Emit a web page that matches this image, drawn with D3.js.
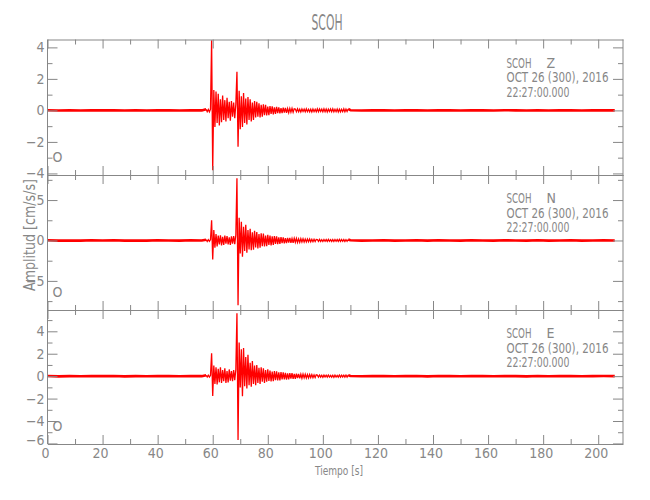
<!DOCTYPE html>
<html><head><meta charset="utf-8">
<script src="https://cdn.jsdelivr.net/npm/d3@7"></script>
<style>body{margin:0;background:#fff} svg{display:block}</style>
</head><body><svg id="c" width="650" height="500"></svg>
<script>
// ---------------- data ----------------
const title = "SCOH";
const station = "SCOH";
const components = ["Z", "N", "E"];
const dateLine = "OCT 26 (300), 2016";
const timeLine = "22:27:00.000";
const markerLabel = "O";
const xLabel = "Tiempo [s]";
const yLabel = "Amplitud [cm/s/s]";

const xDomain = [0, 209];
const xMajorTicks = [0, 20, 40, 60, 80, 100, 120, 140, 160, 180, 200];
const xMinorTicks = [10, 30, 50, 70, 90, 110, 130, 150, 170, 190];

const yDomainZ = [-4.1, 4.5];
const yDomainN = [-8.6, 8.1];
const yDomainE = [-6.05, 5.9];
const yMajorZ = [-4, -2, 0, 2, 4];
const yMinorZ = [-3, -1, 1, 3];
const yMajorN = [-5, 0, 5];
const yMinorN = [-7.5, -2.5, 2.5, 7.5];
const yMajorE = [-6, -4, -2, 0, 2, 4];
const yMinorE = [-5, -3, -1, 1, 3, 5];

// quiet (pre-event / late) parts: times [s] and amplitudes
const preTimes  = [0, 4, 8, 12, 16, 20, 24, 28, 32, 36, 40, 44, 48, 52, 56];
const postTimes = [110, 114, 118, 122, 126, 130, 134, 138, 142, 146, 150, 154, 158, 162, 166, 170, 174, 178, 182, 186, 190, 194, 198, 202, 206];

// active part: sampled every activeDt seconds starting at activeStart
const activeStart = 57.6;
const activeDt = 0.4;

const zPre  = [0.01, -0.01, 0.0, -0.01, 0.01, 0.0, 0.01, -0.01, 0.0, -0.01, 0.01, 0.0, -0.01, 0.01, 0.0];
const zActive = [0.07, -0.08, 0.06, -0.09, 0.08,
  4.45, -3.8, 1.3, -1.05, 1.2, -0.8, 1.05, -0.95, 0.7, -0.75,
  0.95, -0.6, 0.65, -0.7, 0.8, -0.5, 0.55, -0.65, 0.6, -0.4,
  0.5, -0.5, 0.4, 2.45, -2.3, 1.25, -1.2, 0.9, -1.05, 1.1,
  -0.8, 0.75, -0.9, 0.85, -0.6, 0.7, -0.7, 0.5, -0.6, 0.6,
  -0.45, 0.55, -0.4, 0.45, -0.45, 0.35, -0.4, 0.38, -0.3, 0.35,
  -0.32, 0.25, -0.3, 0.28, -0.22, 0.26, -0.25, 0.2, -0.22, 0.22,
  -0.17, 0.2, -0.19, 0.15, -0.18, 0.17, -0.14, 0.16, -0.15, 0.12,
  -0.14, 0.13, -0.11, 0.13, -0.12, 0.1,
  0.09, -0.08, 0.1, -0.09, 0.08, -0.1, 0.09, -0.07, 0.08, -0.09,
  0.1, -0.08, 0.07, -0.09, 0.08, -0.1, 0.09, -0.08, 0.07, -0.09,
  0.1, -0.08, 0.09, -0.07, 0.08, -0.09, 0.1, -0.08, 0.09, -0.1,
  0.08, -0.07, 0.09, -0.08, 0.1, -0.09, 0.07, -0.08, 0.09, -0.1,
  0.08, -0.09, 0.07, -0.08, 0.1, -0.09, 0.08, -0.07, 0.09];
const zPost = [0.01, -0.01, 0.0, 0.01, -0.01, 0.0, 0.01, -0.01, 0.01, 0.0, -0.01, 0.01, 0.0, -0.01, 0.01, 0.0, -0.01, 0.01, -0.01, 0.0, 0.01, -0.01, 0.0, 0.01, 0.0];

const nPre  = [0.02, -0.02, 0.0, -0.02, 0.02, 0.0, 0.02, -0.02, 0.0, -0.02, 0.02, 0.0, -0.02, 0.02, 0.0];
const nActive = [0.1, -0.12, 0.1, -0.11, 0.12,
  2.5, -2.35, 1.3, -0.9, 0.8, -0.75, 0.6, -0.5, 0.65, -0.6,
  0.45, -0.55, 0.6, -0.4, 0.55, -0.5, 0.4, -0.55, 0.5, -0.4,
  0.55, -0.45, 0.7, 7.7, -8.0, 2.8, -1.6, 2.3, -2.0, 1.7,
  -1.3, 1.95, -1.5, 1.3, -1.1, 1.45, -1.2, 1.0, -1.15, 1.2,
  -0.85, 1.05, -1.0, 0.8, -0.9, 0.9, -0.7, 0.85, -0.75, 0.6,
  -0.7, 0.7, -0.55, 0.6, -0.6, 0.5, -0.55, 0.55, -0.42, 0.5,
  -0.45, 0.38, -0.42, 0.42, -0.33, 0.38, -0.36, 0.3, -0.34, 0.33,
  -0.26, 0.31, -0.28, 0.24, -0.28, 0.27, -0.22, 0.25, -0.24, 0.2,
  -0.23, 0.22, -0.18, 0.21, -0.2, 0.17, -0.19, 0.18, -0.15, 0.18,
  -0.16, 0.14, -0.16, 0.15, -0.13, 0.14,
  0.12, -0.11, 0.13, -0.12, 0.1, -0.13, 0.12, -0.1, 0.11, -0.12,
  0.13, -0.11, 0.1, -0.12, 0.11, -0.13, 0.12, -0.1, 0.11, -0.12,
  0.13, -0.11, 0.12, -0.1, 0.11, -0.12, 0.1, -0.11, 0.12];
const nPost = [0.02, -0.02, 0.0, 0.02, -0.02, 0.0, 0.02, -0.02, 0.02, 0.0, -0.02, 0.02, 0.0, -0.02, 0.02, 0.0, -0.02, 0.02, -0.02, 0.0, 0.02, -0.02, 0.0, 0.02, 0.0];

const ePre  = [0.01, -0.02, 0.0, -0.01, 0.02, 0.0, 0.01, -0.02, 0.0, -0.01, 0.02, 0.0, -0.01, 0.01, 0.0];
const eActive = [0.08, -0.07, 0.09, -0.08, 0.07,
  2.05, -1.76, 0.95, -0.7, 0.8, -0.75, 0.65, -0.55, 0.8, -0.6,
  0.55, -0.45, 0.7, -0.6, 0.45, -0.55, 0.6, -0.4, 0.45, -0.45,
  0.55, -0.35, 0.6, 5.6, -5.7, 3.0, -1.0, 2.4, -1.8, 2.5,
  -0.9, 1.7, -1.1, 1.9, -0.8, 1.2, -0.95, 1.35, -0.7, 0.95,
  -0.8, 1.0, -0.6, 0.75, -0.7, 0.8, -0.5, 0.7, -0.6, 0.55,
  -0.5, 0.6, -0.42, 0.5, -0.48, 0.4, -0.45, 0.45, -0.35, 0.42,
  -0.38, 0.33, -0.37, 0.36, -0.3, 0.34, -0.28, 0.3, -0.3, 0.26,
  -0.28, 0.27, -0.22, 0.26, -0.24, 0.2, -0.23, 0.22, -0.18, 0.21,
  -0.2, 0.17, -0.19, 0.18, -0.15, 0.17, -0.16, 0.14, -0.15, 0.15,
  -0.12, 0.14, -0.13, 0.11, -0.12, 0.12,
  0.09, -0.08, 0.1, -0.09, 0.08, -0.1, 0.09, -0.07, 0.08, -0.09,
  0.1, -0.08, 0.07, -0.09, 0.08, -0.1, 0.09, -0.08, 0.07, -0.09,
  0.1, -0.08, 0.09, -0.07, 0.08, -0.09, 0.1, -0.08, 0.09];
const ePost = [0.01, -0.01, 0.0, 0.02, -0.01, 0.0, 0.01, -0.02, 0.01, 0.0, -0.01, 0.02, 0.0, -0.01, 0.01, 0.0, -0.02, 0.01, -0.01, 0.0, 0.02, -0.01, 0.0, 0.01, 0.0];

// ---------------- drawing ----------------
const svg = d3.select("#c");
const FONT = "'Liberation Sans Narrow','DejaVu Sans Condensed','Liberation Sans',sans-serif";
const GRAY = "#878787";
const RED = "#ff0000";

const left = 47.5, right = 623;
const panelTops = [39.5, 175, 310];
const panelBottoms = [175, 310, 444];

const x = d3.scaleLinear().domain(xDomain).range([left, right]);

const traces = [
  {comp: components[0], dom: yDomainZ, maj: yMajorZ, min: yMinorZ, pre: zPre, act: zActive, post: zPost},
  {comp: components[1], dom: yDomainN, maj: yMajorN, min: yMinorN, pre: nPre, act: nActive, post: nPost},
  {comp: components[2], dom: yDomainE, maj: yMajorE, min: yMinorE, pre: ePre, act: eActive, post: ePost}
];

function styleAxis(g) {
  g.selectAll("path.domain").attr("stroke", GRAY).attr("stroke-width", 1);
  g.selectAll(".tick line").attr("stroke", GRAY).attr("stroke-width", 1);
  g.selectAll(".tick text").attr("fill", GRAY).attr("font-family", FONT).attr("font-size", 14);
}

traces.forEach((tr, k) => {
  const top = panelTops[k], bot = panelBottoms[k];
  const y = d3.scaleLinear().domain(tr.dom).range([bot, top]);
  const isLast = k === traces.length - 1;

  // trace
  const preData = preTimes.map((t, i) => [t, tr.pre[i]]);
  const actData = tr.act.map((v, i) => [activeStart + activeDt * i, v]);
  const postData = postTimes.map((t, i) => [t, tr.post[i]]);
  const line = d3.line().x(d => x(d[0])).y(d => y(d[1]));

  const tg = svg.append("g");
  tg.append("path").datum(preData.concat([actData[0]]))
    .attr("d", line).attr("fill", "none").attr("stroke", RED).attr("stroke-width", 2.6).attr("stroke-linejoin", "round");
  tg.append("path").datum([actData[actData.length - 1]].concat(postData))
    .attr("d", line).attr("fill", "none").attr("stroke", RED).attr("stroke-width", 2.6).attr("stroke-linejoin", "round");
  tg.append("path").datum(actData)
    .attr("d", line).attr("fill", "none").attr("stroke", RED).attr("stroke-width", 1.3);

  // left axis
  const gl = svg.append("g").attr("transform", `translate(${left},0)`)
    .call(d3.axisLeft(y).tickValues(tr.maj).tickSizeInner(-10).tickSizeOuter(0).tickPadding(3).tickFormat(d3.format("d")));
  styleAxis(gl);
  gl.selectAll("path.domain").attr("d", `M0,${top}V${bot}`);
  if (isLast) {
    // lowest label sits just above the corner so it does not collide with the x "0"
    gl.selectAll(".tick text").filter(d => d === tr.maj[0]).attr("y", -3);
  }
  const glm = svg.append("g").attr("transform", `translate(${left},0)`)
    .call(d3.axisLeft(y).tickValues(tr.min).tickSizeInner(-5).tickSizeOuter(0).tickFormat(""));
  styleAxis(glm); glm.select("path.domain").remove();

  // right axis (inward ticks)
  const gr = svg.append("g").attr("transform", `translate(${right},0)`)
    .call(d3.axisRight(y).tickValues(tr.maj).tickSizeInner(-10).tickSizeOuter(0).tickFormat(""));
  styleAxis(gr);
  gr.selectAll("path.domain").attr("d", `M0,${top}V${bot}`);
  const grm = svg.append("g").attr("transform", `translate(${right},0)`)
    .call(d3.axisRight(y).tickValues(tr.min).tickSizeInner(-5).tickSizeOuter(0).tickFormat(""));
  styleAxis(grm); grm.select("path.domain").remove();

  // top axis
  const gt = svg.append("g").attr("transform", `translate(0,${top})`)
    .call(d3.axisTop(x).tickValues(xMajorTicks).tickSizeInner(-9).tickSizeOuter(0).tickFormat(""));
  styleAxis(gt);
  const gtm = svg.append("g").attr("transform", `translate(0,${top})`)
    .call(d3.axisTop(x).tickValues(xMinorTicks).tickSizeInner(-5).tickSizeOuter(0).tickFormat(""));
  styleAxis(gtm); gtm.select("path.domain").remove();

  // bottom axis
  const gb = svg.append("g").attr("transform", `translate(0,${bot})`)
    .call(d3.axisBottom(x).tickValues(xMajorTicks).tickSizeInner(-9).tickSizeOuter(0).tickPadding(4)
      .tickFormat(isLast ? d3.format("d") : ""));
  styleAxis(gb);
  gb.selectAll(".tick text").attr("dx", -2.5);
  const gbm = svg.append("g").attr("transform", `translate(0,${bot})`)
    .call(d3.axisBottom(x).tickValues(xMinorTicks).tickSizeInner(-5).tickSizeOuter(0).tickFormat(""));
  styleAxis(gbm); gbm.select("path.domain").remove();

  // info text
  const tx = 506.5;
  const t0 = top + 28;
  svg.append("text").attr("x", tx).attr("y", t0).text(station)
    .attr("font-family", FONT).attr("font-size", 14).attr("fill", GRAY)
    .attr("textLength", 25).attr("lengthAdjust", "spacingAndGlyphs");
  svg.append("text").attr("x", tx + 40).attr("y", t0).text(tr.comp)
    .attr("font-family", FONT).attr("font-size", 14).attr("fill", GRAY);
  svg.append("text").attr("x", tx).attr("y", t0 + 14.5).text(dateLine)
    .attr("font-family", FONT).attr("font-size", 14).attr("fill", GRAY)
    .attr("textLength", 102).attr("lengthAdjust", "spacingAndGlyphs");
  svg.append("text").attr("x", tx).attr("y", t0 + 29).text(timeLine)
    .attr("font-family", FONT).attr("font-size", 14).attr("fill", GRAY)
    .attr("textLength", 63).attr("lengthAdjust", "spacingAndGlyphs");

  // origin marker label
  svg.append("text").attr("x", x(0) + 5).attr("y", bot - 13).text(markerLabel)
    .attr("font-family", FONT).attr("font-size", 14).attr("fill", GRAY);
});

// title
svg.append("text").attr("x", 327).attr("y", 30).attr("text-anchor", "middle")
  .text(title).attr("font-family", FONT).attr("font-size", 21).attr("fill", GRAY)
  .attr("textLength", 31).attr("lengthAdjust", "spacingAndGlyphs");

// axis labels
svg.append("text").attr("x", 339).attr("y", 475).attr("text-anchor", "middle")
  .text(xLabel).attr("font-family", FONT).attr("font-size", 13).attr("fill", GRAY)
  .attr("textLength", 48).attr("lengthAdjust", "spacingAndGlyphs");
svg.append("text").attr("transform", "translate(35,235) rotate(-90)").attr("text-anchor", "middle")
  .text(yLabel).attr("font-family", FONT).attr("font-size", 15).attr("fill", GRAY)
  .attr("textLength", 112).attr("lengthAdjust", "spacingAndGlyphs");
</script>
</body></html>
